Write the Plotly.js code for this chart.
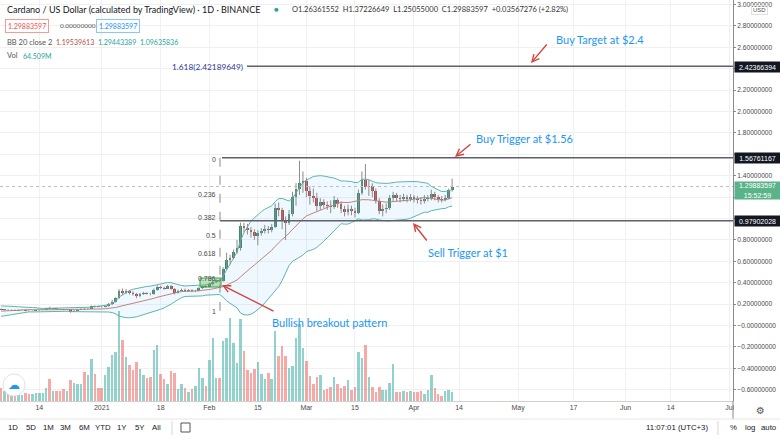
<!DOCTYPE html>
<html><head><meta charset="utf-8">
<script src="https://cdn.plot.ly/plotly-3.0.1.min.js"></script>
<style>html,body{margin:0;padding:0;background:#fff;}#chart{width:780px;height:439px;}</style>
</head><body><div id="chart"></div>
<script>
const dates = [
'2020-12-03','2020-12-04','2020-12-05','2020-12-06','2020-12-07','2020-12-08','2020-12-09','2020-12-10','2020-12-11','2020-12-12',
'2020-12-13','2020-12-14','2020-12-15','2020-12-16','2020-12-17','2020-12-18','2020-12-19','2020-12-20','2020-12-21','2020-12-22',
'2020-12-23','2020-12-24','2020-12-25','2020-12-26','2020-12-27','2020-12-28','2020-12-29','2020-12-30','2020-12-31',
'2021-01-01','2021-01-02','2021-01-03','2021-01-04','2021-01-05','2021-01-06','2021-01-07','2021-01-08','2021-01-09','2021-01-10',
'2021-01-11','2021-01-12','2021-01-13','2021-01-14','2021-01-15','2021-01-16','2021-01-17','2021-01-18','2021-01-19','2021-01-20',
'2021-01-21','2021-01-22','2021-01-23','2021-01-24','2021-01-25','2021-01-26','2021-01-27','2021-01-28','2021-01-29','2021-01-30','2021-01-31',
'2021-02-01','2021-02-02','2021-02-03','2021-02-04','2021-02-05','2021-02-06','2021-02-07','2021-02-08','2021-02-09','2021-02-10',
'2021-02-11','2021-02-12','2021-02-13','2021-02-14','2021-02-15','2021-02-16','2021-02-17','2021-02-18','2021-02-19','2021-02-20',
'2021-02-21','2021-02-22','2021-02-23','2021-02-24','2021-02-25','2021-02-26','2021-02-27','2021-02-28',
'2021-03-01','2021-03-02','2021-03-03','2021-03-04','2021-03-05','2021-03-06','2021-03-07','2021-03-08','2021-03-09','2021-03-10',
'2021-03-11','2021-03-12','2021-03-13','2021-03-14','2021-03-15','2021-03-16','2021-03-17','2021-03-18','2021-03-19','2021-03-20',
'2021-03-21','2021-03-22','2021-03-23','2021-03-24','2021-03-25','2021-03-26','2021-03-27','2021-03-28','2021-03-29','2021-03-30','2021-03-31',
'2021-04-01','2021-04-02','2021-04-03','2021-04-04','2021-04-05','2021-04-06','2021-04-07','2021-04-08','2021-04-09','2021-04-10',
'2021-04-11','2021-04-12'];

const open = [.155,.146,.149,.142,.146,.140,.143,.146,.139,.136, .139,.141,.143,.146,.160,.156,.160,.156,.152,.148,
.151,.127,.140,.148,.155,.151,.157,.180,.177,.175, .172,.178,.205,.222,.255,.325,.305,.318,.305,.298,
.280,.295,.302,.298,.290,.335,.360,.350,.345,.372, .345,.305,.325,.335,.325,.332,.318,.325,.350,.365,
.360,.390,.405,.425,.415,.530,.610,.630,.690,.720, .930,.910,.890,.870,.840,.860,.880,.900,.890,.920,
1.100,1.080,.990,.960,1.040,1.200,1.280,1.330,1.350,1.260, 1.210,1.190,1.120,1.150,1.130,1.120,1.110,1.170,1.140,1.090,
1.060,1.090,1.070,1.050,1.240,1.360,1.290,1.300,1.260,1.160, 1.070,1.090,1.100,1.190,1.220,1.190,1.180,1.200,1.180,1.200,
1.180,1.170,1.160,1.180,1.190,1.230,1.200,1.180,1.170,1.190, 1.26361552];
const high = [.160,.153,.152,.150,.149,.147,.149,.148,.142,.142, .144,.146,.149,.164,.175,.164,.163,.159,.156,.155,
.153,.144,.152,.159,.162,.161,.187,.188,.184,.182, .183,.212,.240,.265,.340,.345,.340,.330,.320,.305,
.305,.315,.310,.305,.345,.375,.372,.362,.380,.378, .350,.335,.345,.345,.340,.338,.333,.360,.372,.375,
.400,.420,.432,.435,.545,.680,.660,.710,.800,.960, .960,.950,.920,.900,.890,.910,.940,.930,.950,1.140,
1.150,1.100,1.020,1.080,1.250,1.330,1.540,1.440,1.380,1.300, 1.280,1.240,1.190,1.180,1.160,1.170,1.210,1.190,1.160,1.120,
1.130,1.120,1.100,1.270,1.440,1.510,1.360,1.330,1.280,1.190, 1.130,1.140,1.220,1.250,1.240,1.220,1.230,1.220,1.230,1.220,
1.210,1.200,1.220,1.220,1.270,1.250,1.220,1.210,1.220,1.280, 1.37226649];
const low = [.143,.141,.138,.140,.136,.135,.138,.134,.131,.133, .136,.138,.141,.144,.152,.152,.150,.147,.143,.144,
.120,.125,.137,.145,.146,.148,.155,.170,.170,.166, .170,.175,.190,.215,.250,.285,.295,.290,.280,.255,
.265,.285,.290,.282,.288,.325,.340,.335,.340,.335, .290,.298,.318,.315,.318,.310,.312,.320,.340,.350,
.355,.375,.395,.405,.410,.520,.570,.620,.670,.700, .870,.850,.820,.800,.750,.840,.860,.860,.870,.910,
1.020,.900,.800,.940,1.020,1.120,1.220,1.240,1.200,1.130, 1.150,1.070,1.080,1.100,1.080,1.050,1.090,1.100,1.050,1.020,
1.030,1.030,1.010,1.040,1.220,1.270,1.210,1.200,1.140,1.040, 1.020,1.050,1.080,1.160,1.160,1.150,1.160,1.150,1.160,1.150,
1.140,1.130,1.140,1.160,1.170,1.170,1.150,1.150,1.160,1.180, 1.25055000];
const close = [.146,.149,.142,.146,.140,.143,.146,.139,.136,.139, .141,.143,.146,.160,.156,.160,.156,.152,.148,.151,
.127,.140,.148,.155,.151,.157,.180,.177,.175,.172, .178,.205,.222,.255,.325,.305,.318,.305,.298,.280,
.295,.302,.298,.290,.335,.360,.350,.345,.372,.345, .305,.325,.335,.325,.332,.318,.325,.350,.365,.360,
.390,.405,.425,.415,.530,.610,.630,.690,.720,.930, .910,.890,.870,.840,.860,.880,.900,.890,.920,1.100,
1.080,.990,.960,1.040,1.200,1.280,1.330,1.350,1.260,1.210, 1.190,1.120,1.150,1.130,1.120,1.110,1.170,1.140,1.090,1.060,
1.090,1.070,1.050,1.240,1.360,1.290,1.300,1.260,1.160,1.070, 1.090,1.100,1.190,1.220,1.190,1.180,1.200,1.180,1.200,1.180,
1.170,1.160,1.180,1.190,1.230,1.200,1.180,1.170,1.190,1.26361552, 1.29883597];
const volume = [90,68,54,61,68,54,41,56,50,50, 56,52,52,90,148,68,68,68,80,68,
143,124,114,118,197,177,288,182,86,90, 175,231,311,335,612,415,299,245,211,267,
216,177,154,165,347,379,186,150,116,204, 192,82,118,90,63,82,102,226,158,102,
277,426,154,154,408,430,566,396,260,556, 340,209,192,216,267,186,148,192,148,476,
306,374,306,226,238,426,522,360,272,170, 114,163,177,73,80,95,163,118,86,102,
141,73,95,335,290,381,163,95,63,95, 77,77,124,254,61,61,68,61,68,63,
63,68,50,77,177,86,50,34,68,78, 64.509];
// closes before the visible window, needed to warm up the 20-day Bollinger Bands
const warmupClose = [0.098,0.096,0.100,0.104,0.106,0.108,0.118,0.135,0.152,0.168,0.172,0.150,0.128,0.135,0.148,0.152,0.160,0.155,0.155];

const priceTicks = [-0.6,-0.4,-0.2,0,0.2,0.4,0.6,0.8,1.0,1.2,1.4,1.6,1.8,2.0,2.2,2.4,2.6,2.8,3.0];
// labels at 1.0, 1.2, 1.6 and 2.4 are hidden behind the price boxes in the reference
const priceTickText = ['−0.60000000','−0.40000000','−0.20000000','−0.00000000','0.20000000','0.40000000','0.60000000','0.80000000','','','1.40000000','','1.80000000','2.00000000','2.20000000','','2.60000000','2.80000000','3.00000000'];
const timeTicks = ['2020-12-14','2021-01-01','2021-01-18','2021-02-01','2021-02-15','2021-03-01','2021-03-15','2021-04-01','2021-04-14','2021-05-01','2021-05-17','2021-06-01','2021-06-14','2021-07-01'];
const timeTickText = ['14','2021','18','Feb','15','Mar','15','Apr','14','May','17','Jun','14','Jul'];
const levelTarget = 2.42366394, levelBuy = 1.56761167, levelSell = 0.97902028;
const lastClose = 1.29883597;

// ---------- layout helpers ----------
const PW = 733, PH = 401;
const DAY = 864e5;
const T0 = Date.UTC(2020,11,3);
const R0 = T0 - (1.14/3.469)*DAY, R1 = R0 + (PW/3.469)*DAY;
const iso = ms => new Date(ms).toISOString().replace('T',' ').replace('Z','');
const pxDate = x => iso(R0 + x/PW*(R1-R0));
const px = x => x/PW, py = y => 1 - y/PH;
const AXF = '"Liberation Sans",Arial,sans-serif';
const SANS = 'Lato,"Open Sans",sans-serif';

// Bollinger bands (20, 2) on close
const allClose = warmupClose.concat(close);
const bbMid=[], bbUp=[], bbLo=[];
for (let i=0;i<close.length;i++){
  const w = allClose.slice(i, i+20);
  const m = w.reduce((a,b)=>a+b,0)/20;
  const sd = Math.sqrt(w.reduce((a,b)=>a+(b-m)*(b-m),0)/20);
  bbMid.push(m); bbUp.push(m+2*sd); bbLo.push(m-2*sd);
}
const up = close.map((c,i)=>c>=open[i]);
const volColors = up.map(u=>u?'rgba(38,166,154,0.5)':'rgba(239,83,80,0.5)');
const bodyColors = up.map(u=>u?'#3b8e6b':'#bf4240');
const wx=[], wy=[];
dates.forEach((d,i)=>{wx.push(d,d,null); wy.push(low[i],high[i],null);});

const traces = [
  {type:'bar', x:dates, y:volume, yaxis:'y', marker:{color:volColors, line:{width:0}}, width:0.72*DAY, hoverinfo:'skip'},
  {type:'scatter', mode:'lines', x:dates, y:bbUp, yaxis:'y2', line:{color:'#5db5af', width:1}, hoverinfo:'skip'},
  {type:'scatter', mode:'lines', x:dates, y:bbLo, yaxis:'y2', line:{color:'#5db5af', width:1}, fill:'tonexty', fillcolor:'rgba(33,150,243,0.07)', hoverinfo:'skip'},
  {type:'scatter', mode:'lines', x:dates, y:bbMid, yaxis:'y2', line:{color:'#c0857c', width:1}, hoverinfo:'skip'},
  {type:'scatter', mode:'lines', x:wx, y:wy, yaxis:'y2', line:{color:'#8c8c8c', width:1}, connectgaps:false, hoverinfo:'skip'},
  {type:'bar', x:dates, base:open.map((o,i)=>Math.min(o,close[i])), y:open.map((o,i)=>Math.max(Math.abs(close[i]-o),0.004)), yaxis:'y2', width:0.8*DAY, marker:{color:bodyColors, line:{width:0}}, hoverinfo:'skip'}
];

const shapes = [
  {type:'rect', xref:'x', yref:'y2', x0:pxDate(200), x1:pxDate(221), y0:0.36, y1:0.444, fillcolor:'rgba(76,175,80,0.35)', line:{color:'#43a047', width:1}},
  {type:'line', xref:'paper', yref:'y2', x0:px(247), x1:1, y0:levelTarget, y1:levelTarget, line:{color:'#5d606b', width:1.5}},
  {type:'line', xref:'paper', yref:'y2', x0:px(222), x1:1, y0:levelBuy, y1:levelBuy, line:{color:'#5d606b', width:1.5}},
  {type:'line', xref:'paper', yref:'y2', x0:px(220), x1:1, y0:levelSell, y1:levelSell, line:{color:'#5d606b', width:1.5}},
  {type:'line', xref:'paper', yref:'y2', x0:px(220), x1:px(220), y0:levelBuy, y1:0.10, line:{color:'#8a8a8a', width:1, dash:'dash'}},
  {type:'line', xref:'paper', yref:'y2', x0:0, x1:1, y0:lastClose, y1:lastClose, line:{color:'#bdbdbd', width:1, dash:'dot'}},
  {type:'rect', xref:'paper', yref:'paper', x0:px(734), x1:px(780), y0:py(402), y1:py(418), fillcolor:'#ffffff', line:{width:0}},
  {type:'line', xref:'paper', yref:'paper', x0:1, x1:1, y0:py(401), y1:py(419), line:{color:'#8a8a8a', width:1}},
  {type:'line', xref:'paper', yref:'paper', x0:0, x1:px(780), y0:py(419), y1:py(419), line:{color:'#e6e6e6', width:1}},
  {type:'line', xref:'paper', yref:'paper', x0:px(172), x1:px(172), y0:py(421), y1:py(435), line:{color:'#d6d6d6', width:1}},
  {type:'line', xref:'paper', yref:'paper', x0:px(718), x1:px(718), y0:py(421), y1:py(435), line:{color:'#d6d6d6', width:1}},
  {type:'rect', xref:'paper', yref:'paper', x0:px(181), x1:px(190), y0:py(432), y1:py(423), line:{color:'#555', width:1}},
  {type:'circle', xref:'paper', yref:'paper', x0:px(3), x1:px(25), y0:py(396), y1:py(374), fillcolor:'#ffffff', line:{color:'#e2e2e2', width:1}}
];

function txt(x,y,text,opt){
  opt = opt||{};
  return Object.assign({xref:'paper', yref:'paper', x:px(x), y:py(y), text:text, showarrow:false,
    xanchor:opt.xanchor||'left', yanchor:'middle',
    font:{family:opt.family||SANS, size:opt.size||8, color:opt.color||'#131722'}}, opt.extra||{});
}
function arrow(hx,hy,tx,ty){
  return {xref:'paper', yref:'paper', x:px(hx), y:py(hy), ax:tx-hx, ay:ty-hy, text:'', showarrow:true,
    arrowhead:5, arrowsize:1, arrowwidth:1.4, arrowcolor:'#d1453f', standoff:0, startstandoff:0};
}
function box(y,text,bg,h){
  return {xref:'paper', yref:'paper', x:px(734), y:py(y), xanchor:'left', yanchor:'middle', text:text, showarrow:false,
    width:45, height:h||10, bgcolor:bg, borderpad:0, align:'center',
    font:{family:AXF, size:7, color:'#ffffff'}};
}
const BLUE = '#2196f3';
const annotations = [
  // header
  txt(5,9,'Cardano / US Dollar (calculated by TradingView) · 1D · BINANCE',{size:9}),
  txt(272,9,'●',{size:8,color:'#26a69a'}),
  txt(290,9,'O1.26361552  H1.37226649  L1.25055000  C1.29883597  +0.03567276 (+2.82%)',{size:7.5,color:'#333'}),
  txt(5,26,'1.29883597',{size:7,color:'#ef5350',extra:{bordercolor:'#f19c99',borderwidth:1,borderpad:2}}),
  txt(58,26,'0.00000000',{size:6.5,color:'#555'}),
  txt(96,26,'1.29883597',{size:7,color:BLUE,extra:{bordercolor:'#8cc6f6',borderwidth:1,borderpad:2}}),
  txt(5,42,'BB 20 close 2',{size:7.5,color:'#555'}),
  txt(54,42,'1.19539613',{size:7,color:'#b0524c'}),
  txt(96,42,'1.29443389',{size:7,color:'#26a69a'}),
  txt(138,42,'1.09635836',{size:7,color:'#26a69a'}),
  txt(5,56,'Vol',{size:7.5,color:'#555'}),
  txt(21,56,'64.509M',{size:7,color:'#26a69a'}),
  // drawings text
  txt(554,39,'Buy Target at $2.4',{size:11,color:BLUE}),
  txt(474,138,'Buy Trigger at $1.56',{size:11,color:BLUE}),
  txt(426,252,'Sell Trigger at $1',{size:11,color:BLUE}),
  txt(270,322,'Bullish breakout pattern',{size:11,color:BLUE}),
  arrow(531,63,548,43),
  arrow(455,157,472,143),
  arrow(413,223,428,242),
  arrow(222,285,275,312),
  // fib labels
  txt(245,67,'1.618(2.42189649)',{size:8.3,color:'#2b3990',xanchor:'right'}),
  txt(218,159,'0',{size:7,color:'#4a4a4a',xanchor:'right',family:AXF}),
  txt(218,194,'0.236',{size:7,color:'#4a4a4a',xanchor:'right',family:AXF}),
  txt(218,217,'0.382',{size:7,color:'#4a4a4a',xanchor:'right',family:AXF}),
  txt(218,235,'0.5',{size:7,color:'#4a4a4a',xanchor:'right',family:AXF}),
  txt(218,253,'0.618',{size:7,color:'#4a4a4a',xanchor:'right',family:AXF}),
  txt(218,278,'0.786',{size:7,color:'#4a4a4a',xanchor:'right',family:AXF}),
  txt(218,311,'1',{size:7,color:'#4a4a4a',xanchor:'right',family:AXF}),
  // price axis labels
  box(67,'2.42366394','#131722'),
  box(158,'1.56761167','#131722'),
  box(221,'0.97902028','#131722'),
  box(190.5,'1.29883597<br>15:52:59','#5bb38a',17),
  txt(751,10,'USD',{size:6,color:'#555',family:AXF,extra:{bordercolor:'#e0e0e0',borderwidth:1,borderpad:1}}),
  txt(760,410,'⚙',{size:10,color:'#555',family:'DejaVu Sans',xanchor:'center'}),
  txt(14,385,'☁',{size:12,color:BLUE,family:'DejaVu Sans',xanchor:'center'}),
  // bottom toolbar
  txt(13,428,'1D',{size:7.8,family:AXF,xanchor:'center'}),
  txt(31,428,'5D',{size:7.8,family:AXF,xanchor:'center'}),
  txt(48,428,'1M',{size:7.8,family:AXF,xanchor:'center'}),
  txt(65,428,'3M',{size:7.8,family:AXF,xanchor:'center'}),
  txt(84,428,'6M',{size:7.8,family:AXF,xanchor:'center'}),
  txt(103,428,'YTD',{size:7.8,family:AXF,xanchor:'center'}),
  txt(122,428,'1Y',{size:7.8,family:AXF,xanchor:'center'}),
  txt(140,428,'5Y',{size:7.8,family:AXF,xanchor:'center'}),
  txt(156,428,'All',{size:7.8,family:AXF,xanchor:'center'}),
  txt(677,428,'11:07:01 (UTC+3)',{size:7.8,family:AXF,xanchor:'center'}),
  txt(733,428,'%',{size:7.8,family:AXF,xanchor:'center'}),
  txt(750,428,'log',{size:7.8,family:AXF,xanchor:'center'}),
  txt(769,428,'auto',{size:7.8,family:AXF,xanchor:'center'})
];

const layout = {
  width:780, height:439,
  margin:{l:0, r:780-PW, t:0, b:439-PH},
  paper_bgcolor:'#ffffff', plot_bgcolor:'#ffffff',
  showlegend:false, barmode:'overlay', bargap:0,
  xaxis:{type:'date', range:[iso(R0), iso(R1)], tickvals:timeTicks, ticktext:timeTickText,
    showgrid:true, gridcolor:'#f0f0f0', gridwidth:1, showline:true, linecolor:'#d0d0d0', ticks:'', zeroline:false,
    tickfont:{family:AXF, size:7, color:'#4a4a4a'}, fixedrange:true},
  yaxis:{range:[0, PH*6.8], visible:false, fixedrange:true},
  yaxis2:{overlaying:'y', side:'right', range:[(325.5-PH)/107, 325.5/107], tickvals:priceTicks, ticktext:priceTickText,
    showgrid:true, gridcolor:'#f0f0f0', gridwidth:1, zeroline:false, showline:true, linecolor:'#8a8a8a',
    ticks:'outside', ticklen:2, tickcolor:'#8a8a8a', tickfont:{family:AXF, size:6.6, color:'#4a4a4a'}, fixedrange:true},
  shapes:shapes, annotations:annotations
};
Plotly.newPlot('chart', traces, layout, {displayModeBar:false, staticPlot:true});
</script>
</body></html>
